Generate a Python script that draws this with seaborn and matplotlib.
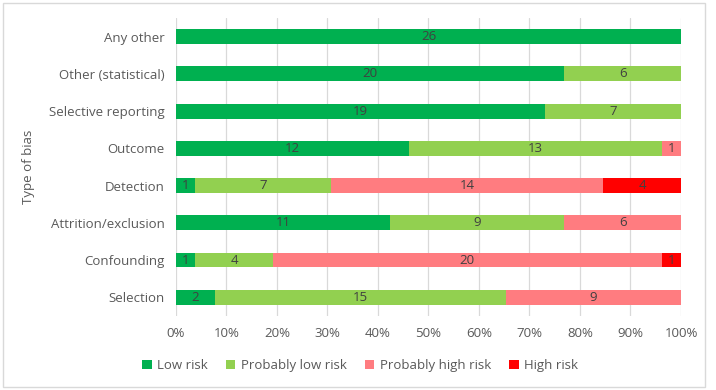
import numpy as np
import pandas as pd
import seaborn as sns
import matplotlib.pyplot as plt
from matplotlib.patches import Patch, Rectangle

categories = ["Any other", "Other (statistical)", "Selective reporting", "Outcome",
              "Detection", "Attrition/exclusion", "Confounding", "Selection"]
low_risk = [26, 20, 19, 12, 1, 11, 1, 2]
prob_low = [0, 6, 7, 13, 7, 9, 4, 15]
prob_high = [0, 0, 0, 1, 14, 6, 20, 9]
high_risk = [0, 0, 0, 0, 4, 0, 1, 0]

series = ["Low risk", "Probably low risk", "Probably high risk", "High risk"]
colors = ["#00B050", "#92D050", "#FF7C80", "#FF0000"]


def main():
    counts = np.array([low_risk, prob_low, prob_high, high_risk], dtype=float)
    totals = counts.sum(axis=0)
    pct = counts / totals * 100
    cum = pct.cumsum(axis=0)

    sns.set_theme(style="white")
    plt.rcParams["font.family"] = ["Open Sans", "DejaVu Sans"]

    fig = plt.figure(figsize=(7.16, 3.9), dpi=100)
    ax = fig.add_axes([0.2458, 0.19, 0.7053, 0.764])

    # draw cumulative bars from the right-most series backwards
    for i in range(len(series) - 1, -1, -1):
        df = pd.DataFrame({"type": categories, "value": cum[i]})
        sns.barplot(data=df, x="value", y="type", color=colors[i], width=0.4,
                    saturation=1, ax=ax, order=categories, linewidth=0)

    # segment labels
    for i in range(len(series)):
        start = cum[i] - pct[i]
        for j, cat in enumerate(categories):
            if counts[i, j] > 0:
                ax.text(start[j] + pct[i, j] / 2, j, f"{int(counts[i, j])}",
                        ha="center", va="center", fontsize=9.5, color="#404040")

    ax.set_xlim(0, 100)
    ax.set_ylim(len(categories) - 0.5, -0.5)
    ax.set_xticks(np.arange(0, 101, 10))
    ax.set_xticklabels([f"{t}%" for t in range(0, 101, 10)])
    ax.tick_params(axis="both", length=0, labelsize=9.5, labelcolor="#595959", pad=8)
    ax.xaxis.grid(True, color="#D9D9D9", linewidth=0.9)
    ax.set_axisbelow(True)
    for s in ax.spines.values():
        s.set_visible(False)
    ax.set_xlabel("")
    ax.set_ylabel("Type of bias", fontsize=9.5, color="#595959", labelpad=10)

    handles = [Patch(facecolor=c, edgecolor="none", label=l) for c, l in zip(colors, series)]
    fig.legend(handles=handles, loc="center", bbox_to_anchor=(0.503, 0.062), ncol=4,
               frameon=False, fontsize=9.5, handlelength=0.7, handleheight=0.7,
               handletextpad=0.4, columnspacing=1.4, labelcolor="#595959")

    fig.patches.append(Rectangle((0.004, 0.008), 0.98, 0.985, transform=fig.transFigure,
                                 fill=False, edgecolor="#D9D9D9", linewidth=1))
    fig.savefig("out.png", dpi=100)


if __name__ == "__main__":
    main()
